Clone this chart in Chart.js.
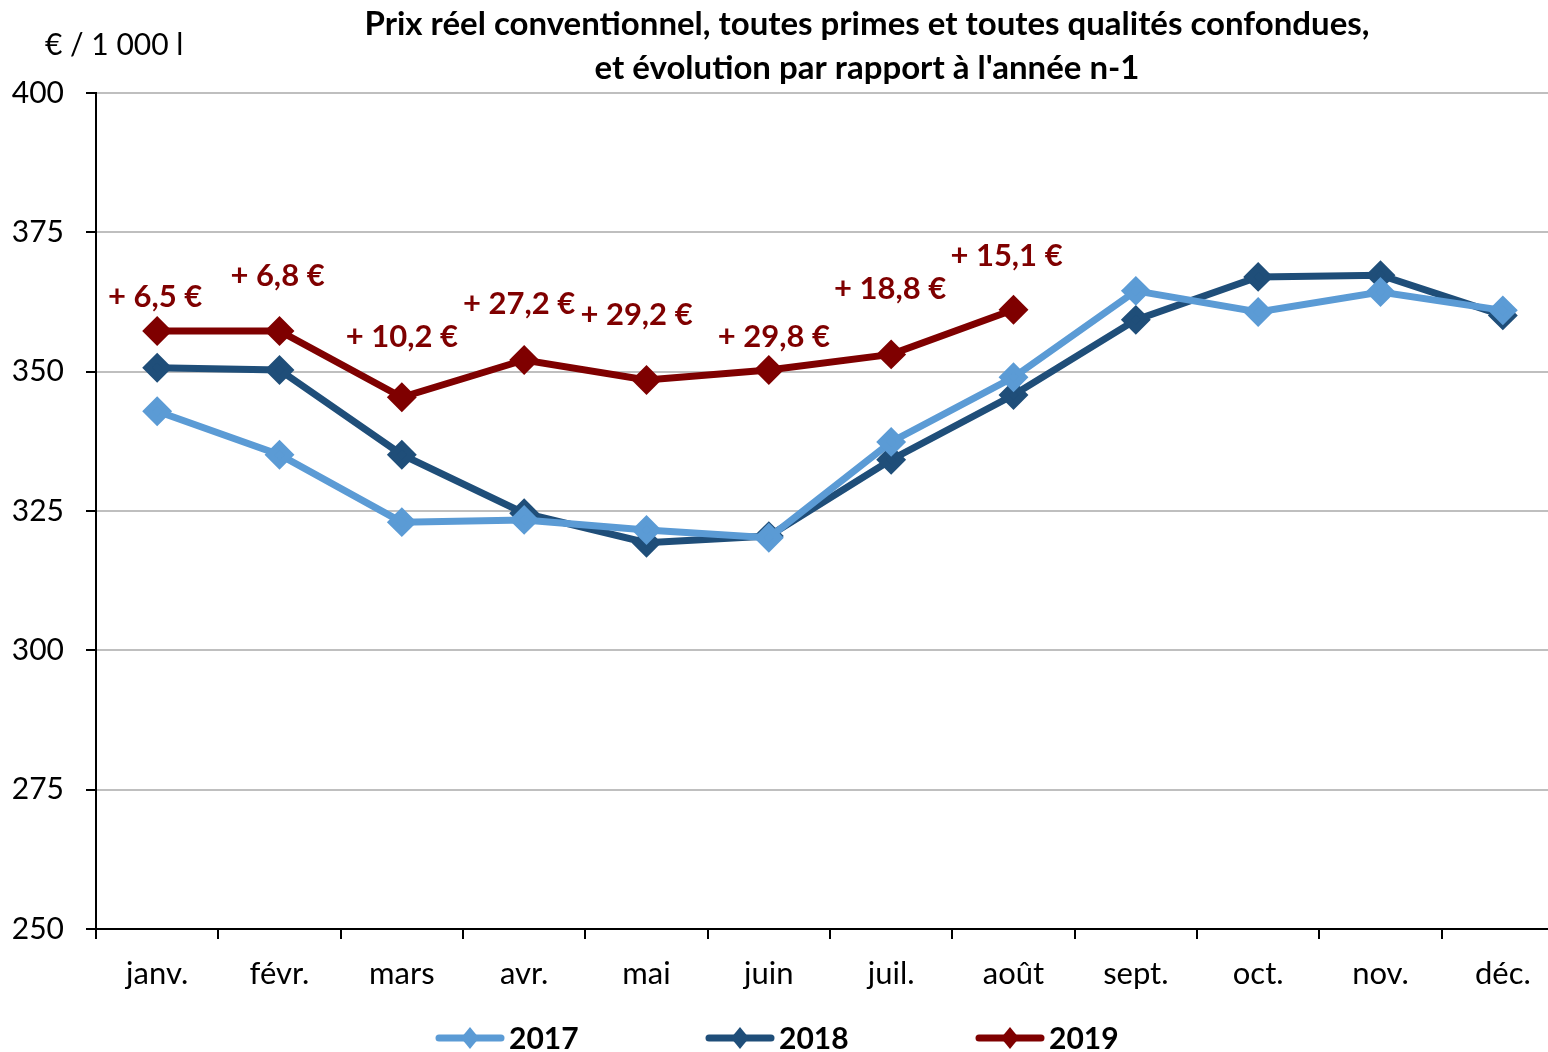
<!DOCTYPE html>
<html>
<head>
<meta charset="utf-8">
<script src="https://cdn.jsdelivr.net/npm/chart.js@4.4.1/dist/chart.umd.min.js"></script>
<style>
  html, body { margin: 0; padding: 0; background: #fff; overflow: hidden; }
  #wrap { width: 1600px; height: 1052px; }
</style>
</head>
<body>
<div id="wrap"><canvas id="prixChart" width="1600" height="1052"></canvas></div>
<script>
const months = ['janv.', 'févr.', 'mars', 'avr.', 'mai', 'juin', 'juil.', 'août', 'sept.', 'oct.', 'nov.', 'déc.'];

const prix2017 = [342.9, 335.1, 323.0, 323.4, 321.6, 320.2, 337.4, 349.0, 364.5, 360.7, 364.3, 361.0];
const prix2018 = [350.7, 350.3, 335.1, 324.6, 319.3, 320.5, 334.2, 345.8, 359.3, 367.0, 367.3, 360.1];
const prix2019 = [357.3, 357.3, 345.4, 352.1, 348.5, 350.3, 353.1, 361.1];

// evolution vs n-1, as printed on the chart
const evol2019 = ['+ 6,5 €', '+ 6,8 €', '+ 10,2 €', '+ 27,2 €', '+ 29,2 €', '+ 29,8 €', '+ 18,8 €', '+ 15,1 €'];
// where each label sits relative to its point (px)
const labelOffsets = [[-2, -34], [-2, -55], [0, -60], [-5, -56], [-10, -65], [5, -33], [-1, -65], [-7, -54]];

const FONT = 'Lato, "Open Sans", sans-serif';

const annotations = {
  id: 'annotations',
  afterDatasetsDraw(chart) {
    const ctx = chart.ctx;
    ctx.save();

    // title
    ctx.fillStyle = '#000';
    ctx.font = 'bold 33px ' + FONT;
    ctx.textAlign = 'center';
    ctx.textBaseline = 'middle';
    ctx.fillText('Prix réel conventionnel, toutes primes et toutes qualités confondues,', 867, 24);
    ctx.fillText("et évolution par rapport à l'année n-1", 867, 68);

    // unit
    ctx.font = '30px ' + FONT;
    ctx.textAlign = 'left';
    ctx.fillText('€ / 1 000 l', 45, 45);

    // evolution labels on 2019
    const meta = chart.getDatasetMeta(2);
    ctx.fillStyle = '#7F0000';
    ctx.font = 'bold 31px ' + FONT;
    ctx.textAlign = 'center';
    evol2019.forEach((txt, i) => {
      const pt = meta.data[i];
      ctx.fillText(txt, pt.x + labelOffsets[i][0], pt.y + labelOffsets[i][1]);
    });

    // legend
    const legendX = [470, 740, 1010];
    const legendY = 1038;
    chart.data.datasets.forEach((ds, i) => {
      const cx = legendX[i];
      ctx.strokeStyle = ds.borderColor;
      ctx.lineWidth = 7;
      ctx.lineCap = 'round';
      ctx.beginPath();
      ctx.moveTo(cx - 31, legendY);
      ctx.lineTo(cx + 31, legendY);
      ctx.stroke();
      ctx.fillStyle = ds.borderColor;
      ctx.beginPath();
      ctx.moveTo(cx, legendY - 11);
      ctx.lineTo(cx + 9, legendY);
      ctx.lineTo(cx, legendY + 11);
      ctx.lineTo(cx - 9, legendY);
      ctx.closePath();
      ctx.fill();
      ctx.fillStyle = '#000';
      ctx.font = 'bold 30px ' + FONT;
      ctx.textAlign = 'left';
      ctx.fillText(ds.label, cx + 39, legendY + 1);
    });

    ctx.restore();
  }
};

function series(label, values, color) {
  return {
    label: label,
    data: values,
    borderColor: color,
    backgroundColor: color,
    borderWidth: 7,
    pointStyle: 'rectRot',
    pointRadius: 10,
    pointHoverRadius: 10,
    tension: 0,
    fill: false
  };
}

new Chart(document.getElementById('prixChart'), {
  type: 'line',
  data: {
    labels: months,
    datasets: [
      series('2017', prix2017, '#5B9BD5'),
      series('2018', prix2018, '#1F4E79'),
      series('2019', prix2019, '#7F0000')
    ]
  },
  options: {
    responsive: false,
    animation: false,
    layout: { padding: { top: 93, right: 36, left: 0, bottom: 0 } },
    plugins: {
      legend: { display: false },
      tooltip: { enabled: false }
    },
    scales: {
      x: {
        offset: true,
        afterFit(scale) { scale.height = 123; },
        grid: {
          offset: true,
          drawOnChartArea: false,
          tickColor: '#000',
          tickLength: 10,
          lineWidth: 2
        },
        border: { color: '#000', width: 2 },
        ticks: {
          color: '#000',
          font: { family: FONT, size: 31 },
          padding: 16,
          maxRotation: 0,
          autoSkip: false
        }
      },
      y: {
        min: 250,
        max: 400,
        afterFit(scale) { scale.width = 96; },
        grid: {
          color: '#BFBFBF',
          lineWidth: 2,
          tickColor: '#000',
          tickLength: 10
        },
        border: { color: '#000', width: 2 },
        ticks: {
          stepSize: 25,
          color: '#000',
          font: { family: FONT, size: 30 },
          padding: 22
        }
      }
    }
  },
  plugins: [annotations]
});
</script>
</body>
</html>
